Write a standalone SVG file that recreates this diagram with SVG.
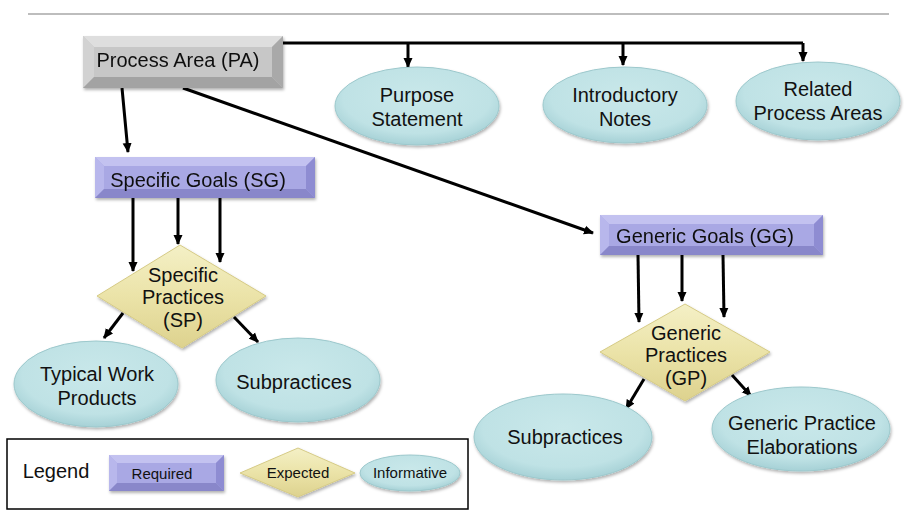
<svg xmlns="http://www.w3.org/2000/svg" width="904" height="516" viewBox="0 0 904 516">
  <style>
    .t { font-family: "Liberation Sans", Arial, sans-serif; font-size: 20px; fill: #111; text-anchor: middle; }
    .s { font-family: "Liberation Sans", Arial, sans-serif; font-size: 15px; fill: #111; text-anchor: middle; }
    .c { fill: none; stroke: #000; stroke-width: 3; }
    .ca { fill: none; stroke: #000; stroke-width: 3; marker-end: url(#ah); }
    .ell { fill: url(#eg); stroke: #9cc8cc; stroke-width: 1; filter: url(#sh); }
    .dia { fill: url(#dg); stroke: #d6cb86; stroke-width: 1; filter: url(#sh); }
  </style>
  <defs>
    <marker id="ah" viewBox="0 0 10 10" refX="9" refY="5" markerUnits="userSpaceOnUse" markerWidth="10" markerHeight="10" orient="auto">
      <path d="M0,0.5 L10,5 L0,9.5 z" fill="#000"/>
    </marker>
    <radialGradient id="eg" cx="0.5" cy="0.4" r="0.6">
      <stop offset="0" stop-color="#c9e8ea"/>
      <stop offset="0.75" stop-color="#bfe2e5"/>
      <stop offset="1" stop-color="#a6d1d6"/>
    </radialGradient>
    <linearGradient id="dg" x1="0" y1="0" x2="0" y2="1">
      <stop offset="0" stop-color="#f4f0c6"/>
      <stop offset="0.5" stop-color="#ebe3a8"/>
      <stop offset="1" stop-color="#ddd28e"/>
    </linearGradient>
    <filter id="sh" x="-10%" y="-10%" width="120%" height="130%">
      <feDropShadow dx="1" dy="2" stdDeviation="1.5" flood-color="#000" flood-opacity="0.3"/>
    </filter>
  </defs>

  <line x1="28" y1="14" x2="889" y2="14" stroke="#bdbdbd" stroke-width="2"/>

  <g id="connectors">
    <path class="c" d="M283,43 H803"/>
    <path class="ca" d="M408,43 V67"/>
    <path class="ca" d="M623,43 V65"/>
    <path class="ca" d="M803,43 V61"/>
    <path class="ca" d="M122,88 L128,152"/>
    <path class="ca" d="M183,88 L593,233"/>
    <path class="ca" d="M133,198 V271"/>
    <path class="ca" d="M178,198 V244"/>
    <path class="ca" d="M220,198 V262"/>
    <path class="ca" d="M123,313 L104,338"/>
    <path class="ca" d="M234,317 L258,342"/>
    <path class="ca" d="M638,255 L639,322"/>
    <path class="ca" d="M682,255 V301"/>
    <path class="ca" d="M723,255 L724,317"/>
    <path class="ca" d="M644,379 L626,409"/>
    <path class="ca" d="M732,375 L751,396"/>
  </g>

  <g id="pa" filter="url(#sh)">
    <rect x="83" y="36" width="200" height="52" fill="#c7c7c7"/>
    <polygon points="83,36 283,36 272,47 94,47" fill="#dedede"/>
    <polygon points="83,36 94,47 94,77 83,88" fill="#d2d2d2"/>
    <polygon points="283,36 283,88 272,77 272,47" fill="#a9a9a9"/>
    <polygon points="83,88 283,88 272,77 94,77" fill="#a3a3a3"/>
    <text class="t" x="178" y="67">Process Area (PA)</text>
  </g>

  <g id="purpose">
    <ellipse class="ell" cx="417" cy="106" rx="82" ry="39"/>
    <text class="t" x="417" y="102">Purpose</text>
    <text class="t" x="417" y="126">Statement</text>
  </g>
  <g id="intro">
    <ellipse class="ell" cx="625" cy="105" rx="82" ry="38"/>
    <text class="t" x="625" y="102">Introductory</text>
    <text class="t" x="625" y="126">Notes</text>
  </g>
  <g id="related">
    <ellipse class="ell" cx="818" cy="101" rx="82" ry="39"/>
    <text class="t" x="818" y="96">Related</text>
    <text class="t" x="818" y="120">Process Areas</text>
  </g>

  <g id="sg" filter="url(#sh)">
    <rect x="95" y="157" width="220" height="41" fill="#a9a8e4"/>
    <polygon points="95,157 315,157 306,166 104,166" fill="#c3c2f0"/>
    <polygon points="95,157 104,166 104,189 95,198" fill="#b8b7ec"/>
    <polygon points="315,157 315,198 306,189 306,166" fill="#8e8cd2"/>
    <polygon points="95,198 315,198 306,189 104,189" fill="#8987ca"/>
    <text class="t" x="198" y="187">Specific Goals (SG)</text>
  </g>

  <g id="sp">
    <polygon class="dia" points="180,245 266,296 182,348 97,296"/>
    <text class="t" x="183" y="282">Specific</text>
    <text class="t" x="183" y="304">Practices</text>
    <text class="t" x="183" y="327">(SP)</text>
  </g>

  <g id="twp">
    <ellipse class="ell" cx="96" cy="384" rx="82" ry="43"/>
    <text class="t" x="97" y="381">Typical Work</text>
    <text class="t" x="97" y="405">Products</text>
  </g>
  <g id="subsp">
    <ellipse class="ell" cx="298" cy="380" rx="82" ry="42"/>
    <text class="t" x="294" y="389">Subpractices</text>
  </g>

  <g id="gg" filter="url(#sh)">
    <rect x="600" y="215" width="223" height="40" fill="#a9a8e4"/>
    <polygon points="600,215 823,215 814,224 609,224" fill="#c3c2f0"/>
    <polygon points="600,215 609,224 609,246 600,255" fill="#b8b7ec"/>
    <polygon points="823,215 823,255 814,246 814,224" fill="#8e8cd2"/>
    <polygon points="600,255 823,255 814,246 609,246" fill="#8987ca"/>
    <text class="t" x="705" y="243">Generic Goals (GG)</text>
  </g>

  <g id="gp">
    <polygon class="dia" points="685,304 770,352 685,401 600,352"/>
    <text class="t" x="686" y="340">Generic</text>
    <text class="t" x="686" y="362">Practices</text>
    <text class="t" x="686" y="385">(GP)</text>
  </g>

  <g id="subgp">
    <ellipse class="ell" cx="563" cy="437" rx="89" ry="43"/>
    <text class="t" x="565" y="444">Subpractices</text>
  </g>
  <g id="gpe">
    <ellipse class="ell" cx="801" cy="429" rx="89" ry="42"/>
    <text class="t" x="802" y="430">Generic Practice</text>
    <text class="t" x="802" y="454">Elaborations</text>
  </g>

  <g id="legend">
    <rect x="7" y="439" width="461" height="70" fill="#fff" stroke="#000" stroke-width="1.5"/>
    <text class="t" x="56" y="478">Legend</text>
    <g filter="url(#sh)">
      <rect x="109" y="455" width="115" height="36" fill="#a9a8e4"/>
      <polygon points="109,455 224,455 216,463 117,463" fill="#c3c2f0"/>
      <polygon points="109,455 117,463 117,483 109,491" fill="#b8b7ec"/>
      <polygon points="224,455 224,491 216,483 216,463" fill="#8e8cd2"/>
      <polygon points="109,491 224,491 216,483 117,483" fill="#8987ca"/>
    </g>
    <text class="s" x="162" y="479">Required</text>
    <polygon class="dia" points="298,448 355,473 298,497 240,473"/>
    <text class="s" x="298" y="478">Expected</text>
    <ellipse class="ell" cx="410" cy="473" rx="50" ry="18"/>
    <text class="s" x="410" y="478">Informative</text>
  </g>
</svg>
